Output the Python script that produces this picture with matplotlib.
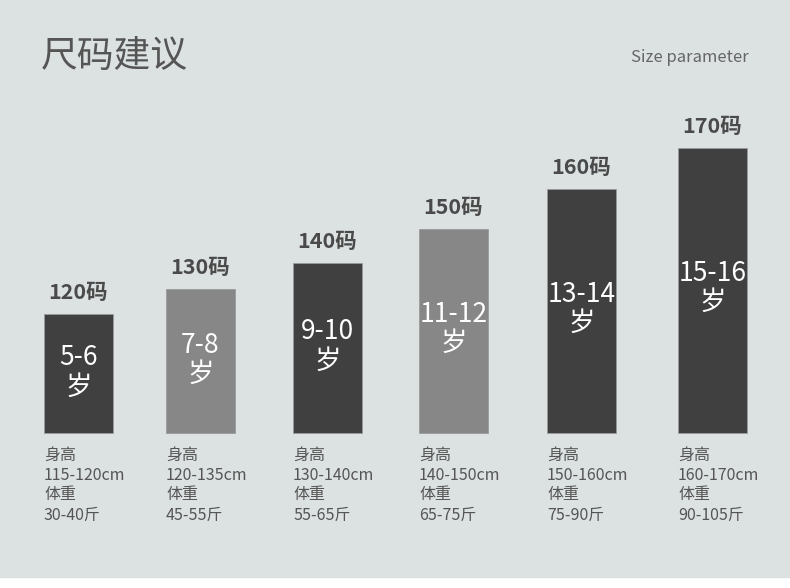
import matplotlib
matplotlib.use("Agg")
import matplotlib.pyplot as plt

plt.rcParams['font.family'] = ['Noto Sans CJK SC', 'DejaVu Sans']

# data
sizes = ['120码', '130码', '140码', '150码', '160码', '170码']
ages = ['5-6', '7-8', '9-10', '11-12', '13-14', '15-16']
bar_heights = [119, 144, 170, 204, 244, 285]
heights_cm = ['115-120cm', '120-135cm', '130-140cm', '140-150cm', '150-160cm', '160-170cm']
weights_jin = ['30-40斤', '45-55斤', '55-65斤', '65-75斤', '75-90斤', '90-105斤']
bar_colors = ['#404040', '#878787', '#404040', '#878787', '#404040', '#404040']

W, H = 790, 588
fig = plt.figure(figsize=(W / 100, H / 100), dpi=100)
fig.patch.set_facecolor('white')
ax = fig.add_axes([0, 0, 1, 1])
ax.set_xlim(0, W)
ax.set_ylim(0, H)
ax.axis('off')

# background panel + white strip at bottom
ax.axhspan(11, H, color='#dce1e1', zorder=0)

base = H - 433
centers = [78.5, 200.5, 327.5, 453.5, 581.5, 712.5]
bw = 69

bars = ax.bar(centers, bar_heights, width=bw, bottom=base, color=bar_colors,
              edgecolor='#9a9a9a', linewidth=0.6, zorder=2)

for i, b in enumerate(bars):
    top = base + bar_heights[i]
    ax.text(centers[i], top + 22, sizes[i], ha='center', va='center',
            fontsize=15.5, fontweight='bold', color='#4a4a4a', zorder=3)
    ax.text(centers[i], base + bar_heights[i] * 0.51, ages[i] + '\n岁',
            ha='center', va='center', fontsize=19, color='white',
            linespacing=1.1, zorder=3)
    left = centers[i] - bw / 2
    lines = ['身高', heights_cm[i], '体重', weights_jin[i]]
    for j, s in enumerate(lines):
        ax.text(left, H - 455 - j * 20, s, ha='left', va='center',
                fontsize=11.5, color='#555555', zorder=3)

ax.text(41, H - 56, '尺码建议', ha='left', va='center', fontsize=26.5,
        color='#555555', fontweight='light')
ax.text(749, H - 58, 'Size parameter', ha='right', va='center', fontsize=12,
        color='#666666')

fig.savefig('out.png', dpi=100, facecolor=fig.get_facecolor())
